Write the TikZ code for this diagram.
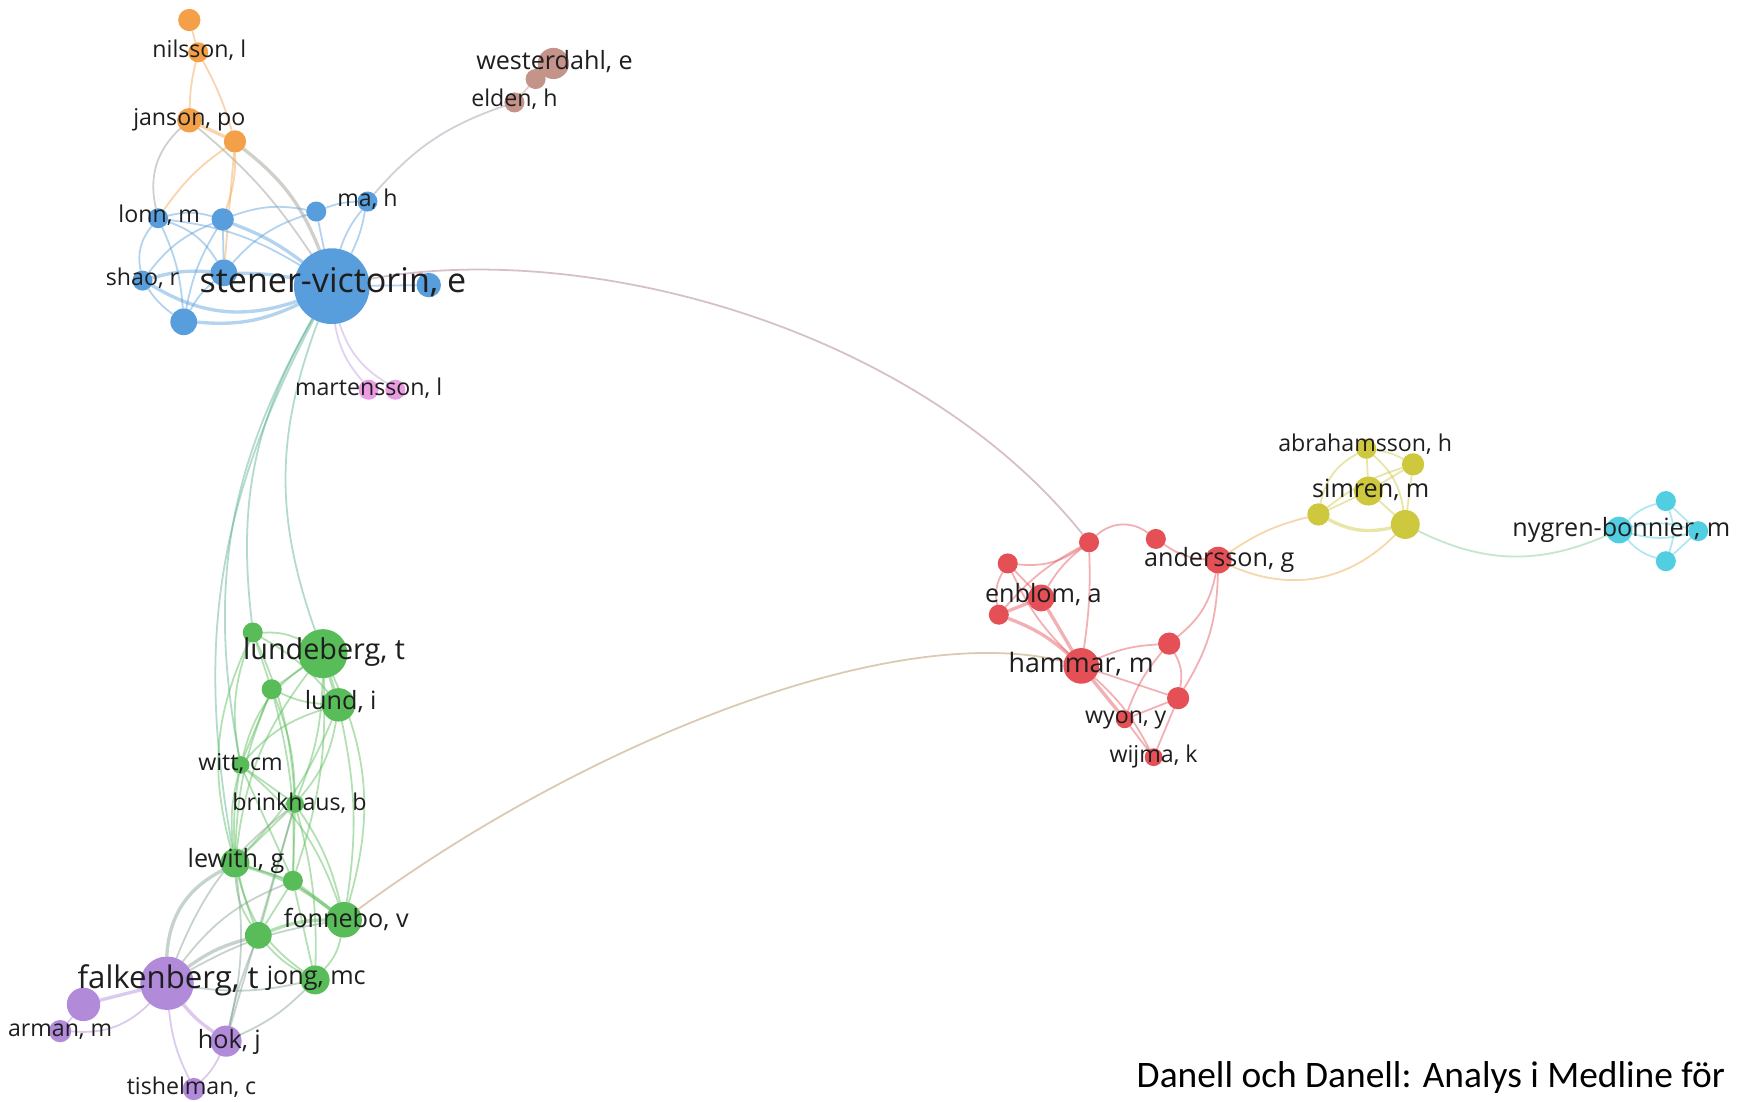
\documentclass[tikz,border=0pt]{standalone}
\usepackage{fontspec}
\setmainfont{Open Sans}
\newfontfamily\calib{Carlito}
\usetikzlibrary{backgrounds}
\definecolor{cor}{RGB}{244,160,72}
\definecolor{cbr}{RGB}{196,148,138}
\definecolor{cbl}{RGB}{88,158,220}
\definecolor{cpk}{RGB}{234,156,226}
\definecolor{cgr}{RGB}{88,188,88}
\definecolor{cpu}{RGB}{178,138,218}
\definecolor{crd}{RGB}{229,80,86}
\definecolor{cye}{RGB}{205,200,62}
\definecolor{ccy}{RGB}{82,206,226}
\definecolor{ctx}{RGB}{30,30,30}
\begin{document}
\begin{tikzpicture}[x=0.5pt,y=-0.5pt,
  nd/.style={circle, inner sep=0pt, outer sep=0pt, minimum size=#1pt},
  nor/.style={nd=#1, fill=cor},
  nbr/.style={nd=#1, fill=cbr},
  nbl/.style={nd=#1, fill=cbl},
  npk/.style={nd=#1, fill=cpk},
  ngr/.style={nd=#1, fill=cgr},
  npu/.style={nd=#1, fill=cpu},
  nrd/.style={nd=#1, fill=crd},
  nye/.style={nd=#1, fill=cye},
  ncy/.style={nd=#1, fill=ccy},
  lab/.style={inner sep=0pt, text=ctx, text height=0.75em, text depth=0.2em},
  labS/.style={lab, font=\fontsize{10.4}{12}\selectfont},
  labM/.style={lab, font=\fontsize{11.3}{13}\selectfont},
  labH/.style={lab, font=\fontsize{12}{14}\selectfont},
  labL/.style={lab, font=\fontsize{12.9}{15}\selectfont},
  labXL/.style={lab, font=\fontsize{14}{16}\selectfont},
  labXXL/.style={lab, font=\fontsize{15.3}{18}\selectfont},
  e/.style={line width=0.8pt, draw opacity=0.45},
  thk/.style={line width=1.5pt},
  sl/.style={bend left=#1},
  sr/.style={bend right=#1},
  eo/.style={e, draw=cor},
  eob/.style={e, draw=cor!50!cbl!70!gray},
  ebr/.style={e, draw=cbr!60!cbl},
  eb/.style={e, draw=cbl},
  epk/.style={e, draw=cpk!70!cbl},
  ebg/.style={e, draw=cgr!55!cbl},
  eblr/.style={e, draw=cbl!45!crd},
  eg/.style={e, draw=cgr},
  egr/.style={e, draw=cgr!50!crd!80!cor},
  epu/.style={e, draw=cpu},
  epg/.style={e, draw=cpu!45!cgr!80!gray},
  er/.style={e, draw=crd},
  ery/.style={e, draw=cor!80!cye},
  ey/.style={e, draw=cye},
  eyc/.style={e, draw=cye!45!ccy!80!cgr},
  ec/.style={e, draw=ccy}]
\useasboundingbox (0,0) rectangle (1568,989);

% ---------- nodes ----------
% orange
\node[nor=10] (o1) at (170,18) {};
\node[nor=9] (nilsson) at (178,47) {};
\node[nor=11] (janson) at (170,108) {};
\node[nor=10] (o4) at (211,127) {};
% brown
\node[nbr=14] (westerdahl) at (497,57) {};
\node[nbr=9] (w2) at (481,71) {};
\node[nbr=9] (elden) at (462,92) {};
% blue
\node[nbl=34] (stener) at (298,257) {};
\node[nbl=11] (bright) at (385,256) {};
\node[nbl=9] (lonn) at (142,196) {};
\node[nbl=10] (b2) at (200,197) {};
\node[nbl=9] (b3) at (284,190) {};
\node[nbl=9] (mah) at (330,181) {};
\node[nbl=12] (b5) at (201,245) {};
\node[nbl=9] (shao) at (128,252) {};
\node[nbl=12] (b7) at (165,289) {};
% pink
\node[npk=9] (m1) at (331,350) {};
\node[npk=9] (m2) at (355,350) {};
% green
\node[ngr=9] (g1) at (227,568) {};
\node[ngr=22] (lundeberg) at (290,587) {};
\node[ngr=9] (g3) at (244,619) {};
\node[ngr=15] (lund) at (304,633) {};
\node[ngr=8] (witt) at (216,687) {};
\node[ngr=8] (brinkhaus) at (265,722) {};
\node[ngr=13] (lewith) at (211,775) {};
\node[ngr=9] (g8) at (263,791) {};
\node[ngr=16] (fonnebo) at (309,826) {};
\node[ngr=12] (g10) at (232,840) {};
\node[ngr=13] (jong) at (283,880) {};
% purple
\node[npu=24] (falkenberg) at (150,883) {};
\node[npu=15] (p2) at (75,902) {};
\node[npu=10] (arman) at (54,926) {};
\node[npu=14] (hok) at (203,935) {};
\node[npu=10] (tishelman) at (174,978) {};
% red
\node[nrd=9] (r1) at (978,487) {};
\node[nrd=9] (r2) at (1038,484) {};
\node[nrd=9] (r3) at (905,506) {};
\node[nrd=12] (andersson) at (1094,503) {};
\node[nrd=12] (enblom) at (935,537) {};
\node[nrd=9] (r6) at (897,552) {};
\node[nrd=10] (r7) at (1050,578) {};
\node[nrd=16] (hammar) at (971,598) {};
\node[nrd=10] (r9) at (1058,627) {};
\node[nrd=8] (wyon) at (1010,646) {};
\node[nrd=8] (wijma) at (1036,680) {};
% yellow
\node[nye=9] (abrahamsson) at (1227,403) {};
\node[nye=10] (y2) at (1269,417) {};
\node[nye=13] (simren) at (1229,441) {};
\node[nye=10] (y4) at (1184,462) {};
\node[nye=13] (y5) at (1262,471) {};
% cyan
\node[ncy=9] (c1) at (1496,450) {};
\node[ncy=12] (nygren) at (1454,476) {};
\node[ncy=9] (c3) at (1525,477) {};
\node[ncy=9] (c4) at (1496,504) {};

% ---------- labels ----------
\node[labS] (Lnilsson) at (179,46) {nilsson, l};
\node[labS] (Ljanson) at (170,107) {janson, po};
\node[labM] (Lwesterdahl) at (498,57) {westerdahl, e};
\node[labS] (Lelden) at (462,90) {elden, h};
\node[labS] (Lmah) at (330,180) {ma, h};
\node[labS] (Llonn) at (143,194) {lonn, m};
\node[labS] (Lshao) at (128,251) {shao, r};
\node[labXXL] (Lstener) at (299,257) {stener-victorin, e};
\node[labS] (Lmart) at (331,350) {martensson, l};
\node[labL] (Llundeberg) at (291,587) {lundeberg, t};
\node[labM] (Llund) at (306,632) {lund, i};
\node[labS] (Lwitt) at (216,686) {witt, cm};
\node[labS] (Lbrink) at (269,722) {brinkhaus, b};
\node[labM] (Llewith) at (212,774) {lewith, g};
\node[labM] (Lfonnebo) at (311,827) {fonnebo, v};
\node[labM] (Ljong) at (284,879) {jong, mc};
\node[labXL] (Lfalk) at (151,882) {falkenberg, t};
\node[labS] (Larman) at (54,925) {arman, m};
\node[labM] (Lhok) at (206,936) {hok, j};
\node[labS] (Ltish) at (172,977) {tishelman, c};
\node[labS] (Labra) at (1226,400) {abrahamsson, h};
\node[labM] (Lsimren) at (1231,441) {simren, m};
\node[labM] (Lnygren) at (1456,476) {nygren-bonnier, m};
\node[labM] (Landersson) at (1095,503) {andersson, g};
\node[labM] (Lenblom) at (937,536) {enblom, a};
\node[labH] (Lhammar) at (971,598) {hammar, m};
\node[labS] (Lwyon) at (1011,644) {wyon, y};
\node[labS] (Lwijma) at (1036,679) {wijma, k};
\node[inner sep=0pt, anchor=base, text=black, font=\calib\fontsize{16.8}{20}\selectfont] (caption) at (1285,977) {Danell och Danell: Analys i Medline för};

% ---------- edges ----------
\begin{scope}[on background layer]
\fill[white] (0,0) rectangle (1568,989);
% orange
\draw[eo] (o1) -- (nilsson);
\draw[eo] (nilsson) to[sr=6] (janson);
\draw[eo] (nilsson) to[sl=6] (o4);
\draw[eo,thk] (janson) -- (o4);
\draw[eob] (janson) to[sr=30] (lonn);
\draw[eob] (janson) to[sl=8] (stener);
\draw[eob,thk] (o4) to[sl=15] (stener);
\draw[eo] (o4) to[sl=10] (b2);
\draw[eo] (o4) to[sr=10] (lonn);
\draw[eo] (o4) -- (b5);
% blue
\draw[eb] (lonn) to[sl=15] (b2);
\draw[eb] (lonn) to[sr=25] (shao);
\draw[eb] (lonn) to[sl=20] (b5);
\draw[eb] (lonn) to[sl=10] (b7);
\draw[eb] (lonn) to[sl=12] (stener);
\draw[eb,thk] (b2) to[sl=8] (stener);
\draw[eb] (b2) to[sr=15] (shao);
\draw[eb] (b2) -- (b5);
\draw[eb] (b2) to[sr=10] (b7);
\draw[eb] (b2) to[sl=15] (b3);
\draw[eb] (b3) -- (stener);
\draw[eb] (b3) to[sr=15] (b5);
\draw[eb] (b3) to[sl=10] (mah);
\draw[eb] (mah) to[sl=8] (stener);
\draw[eb] (mah) to[sr=10] (stener);
\draw[eb,thk] (b5) to[sl=5] (stener);
\draw[eb,thk] (shao) to[sl=10] (b5);
\draw[eb,thk] (shao) to[sr=25] (stener);
\draw[eb] (shao) to[sr=10] (b7);
\draw[eb,thk] (b7) to[sr=15] (stener);
\draw[eb] (b7) to[sl=10] (b5);
\draw[eb] (stener) -- (bright);
% brown
\draw[ebr] (mah) to[sl=15] (elden);
\draw[e,draw=cbr] (elden) -- (w2);
\draw[e,draw=cbr,thk] (w2) -- (westerdahl);
% pink
\draw[epk] (stener) to[sr=15] (m1);
\draw[epk] (stener) to[sr=20] (m2);
% blue -> red long link
\draw[eblr] (stener) .. controls (520,215) and (820,290) .. (r1);
% blue -> green
\draw[ebg] (stener) to[sr=20] (lundeberg);
\draw[ebg] (stener) to[sr=18] (g1);
\draw[ebg] (stener) to[sr=20] (witt);
\draw[ebg] (stener) to[sr=19] (lewith);
% green
\draw[eg] (g1) to[sl=15] (lundeberg);
\draw[eg] (g1) -- (g3);
\draw[eg] (g1) to[sl=10] (lund);
\draw[eg] (g1) to[sr=15] (witt);
\draw[eg] (g1) to[sr=20] (lewith);
\draw[eg] (g1) to[sl=10] (brinkhaus);
\draw[eg] (lundeberg) -- (g3);
\draw[eg,thk] (lundeberg) -- (lund);
\draw[eg] (lundeberg) to[sr=20] (witt);
\draw[eg] (lundeberg) to[sl=10] (brinkhaus);
\draw[eg] (lundeberg) to[sr=15] (lewith);
\draw[eg] (lundeberg) to[sl=20] (fonnebo);
\draw[eg] (lundeberg) to[sl=10] (g8);
\draw[eg] (g3) to[sr=10] (lund);
\draw[eg] (g3) -- (witt);
\draw[eg] (g3) to[sl=10] (brinkhaus);
\draw[eg] (g3) to[sr=10] (lewith);
\draw[eg] (g3) to[sl=8] (g8);
\draw[eg] (lund) to[sr=15] (witt);
\draw[eg] (lund) to[sl=15] (brinkhaus);
\draw[eg] (lund) to[sl=10] (lewith);
\draw[eg] (lund) to[sl=10] (fonnebo);
\draw[eg] (witt) -- (brinkhaus);
\draw[eg] (witt) to[sr=10] (lewith);
\draw[eg] (witt) -- (g8);
\draw[eg] (witt) to[sl=15] (fonnebo);
\draw[eg] (witt) to[sr=15] (g10);
\draw[eg] (brinkhaus) -- (lewith);
\draw[eg] (brinkhaus) -- (g8);
\draw[eg] (brinkhaus) to[sl=10] (fonnebo);
\draw[eg] (brinkhaus) -- (g10);
\draw[eg] (brinkhaus) to[sl=8] (jong);
\draw[eg] (lewith) -- (g8);
\draw[eg,thk] (lewith) to[sl=10] (fonnebo);
\draw[eg] (lewith) to[sr=15] (g10);
\draw[eg] (lewith) to[sr=20] (jong);
\draw[eg,thk] (g8) -- (fonnebo);
\draw[eg] (g8) -- (g10);
\draw[eg] (g8) -- (jong);
\draw[eg,thk] (g10) to[sl=10] (fonnebo);
\draw[eg] (g10) to[sr=10] (jong);
\draw[eg] (fonnebo) to[sl=15] (jong);
% green -> red long link
\draw[egr] (fonnebo) .. controls (520,670) and (800,555) .. (hammar);
% purple
\draw[epu,thk] (falkenberg) -- (p2);
\draw[epu] (p2) -- (arman);
\draw[epu] (falkenberg) to[sl=25] (arman);
\draw[epu,thk] (falkenberg) to[sr=8] (hok);
\draw[epu] (falkenberg) to[sr=10] (tishelman);
\draw[epu] (hok) to[sl=10] (tishelman);
\draw[epg,thk] (falkenberg) to[sl=30] (lewith);
\draw[epg,thk] (falkenberg) to[sl=10] (g10);
\draw[epg] (falkenberg) to[sl=15] (g8);
\draw[epg] (falkenberg) to[sl=10] (fonnebo);
\draw[epg] (falkenberg) to[sl=15] (brinkhaus);
\draw[epg] (falkenberg) to[sr=10] (jong);
\draw[epg] (hok) to[sr=10] (lewith);
\draw[epg] (hok) to[sl=5] (g10);
\draw[epg] (hok) -- (brinkhaus);
\draw[epg] (hok) to[sr=10] (jong);
% red
\draw[er] (r1) to[sl=40] (r2);
\draw[er] (r2) to[sr=15] (andersson);
\draw[er] (r1) to[sl=20] (r3);
\draw[er] (r1) to[sr=10] (enblom);
\draw[er] (r1) to[sr=10] (r6);
\draw[er] (r1) to[sl=5] (hammar);
\draw[er] (r3) -- (enblom);
\draw[er] (r3) to[sr=20] (r6);
\draw[er] (r3) to[sr=10] (hammar);
\draw[er,thk] (enblom) -- (r6);
\draw[er,thk] (enblom) -- (hammar);
\draw[er,thk] (r6) to[sl=10] (hammar);
\draw[er] (hammar) to[sl=10] (r7);
\draw[er] (hammar) -- (r9);
\draw[er] (andersson) to[sl=20] (r7);
\draw[er] (andersson) to[sl=15] (r9);
\draw[er] (r7) to[sl=20] (r9);
\draw[er,thk] (hammar) -- (wyon);
\draw[er] (hammar) to[sl=10] (wijma);
\draw[er] (r9) -- (wyon);
\draw[er] (r9) -- (wijma);
\draw[er] (wyon) -- (wijma);
\draw[er] (r7) to[sr=10] (wyon);
% red -> yellow
\draw[ery] (andersson) to[sl=10] (y4);
\draw[ery] (andersson) to[sr=35] (y5);
% yellow
\draw[ey] (abrahamsson) to[sl=10] (y2);
\draw[ey] (abrahamsson) -- (simren);
\draw[ey] (abrahamsson) to[sr=25] (y4);
\draw[ey] (abrahamsson) to[sl=20] (y5);
\draw[ey] (y2) -- (simren);
\draw[ey] (y2) -- (y5);
\draw[ey] (y2) to[sr=10] (y4);
\draw[ey] (simren) -- (y4);
\draw[ey] (simren) -- (y5);
\draw[ey,thk] (y4) to[sr=20] (y5);
% yellow -> cyan
\draw[eyc] (y5) to[sr=25] (nygren);
% cyan
\draw[ec] (nygren) to[sl=15] (c1);
\draw[ec] (nygren) to[sl=15] (c3);
\draw[ec] (nygren) to[sr=15] (c3);
\draw[ec] (nygren) to[sr=15] (c4);
\draw[ec] (c1) -- (c3);
\draw[ec] (c1) to[sl=20] (c4);
\draw[ec] (c3) -- (c4);
\end{scope}
\end{tikzpicture}
\end{document}
